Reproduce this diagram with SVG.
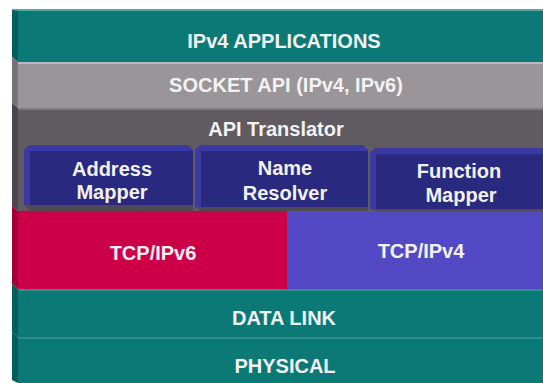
<svg xmlns="http://www.w3.org/2000/svg" width="543" height="383" viewBox="0 0 543 383">
  <style>
    .lbl { font-family: "Liberation Sans", Arial, sans-serif; font-weight: bold; font-size: 20px; fill: #f2f2f2; text-anchor: middle; }
    .teal { fill: #0b7a77; }
    .teal-side { fill: #005f5d; }
    .teal-edge { fill: #4fa9a6; }
    .box-bevel { fill: #3a3aa2; }
    .box-face { fill: #29297f; }
  </style>

  <rect x="0" y="0" width="543" height="383" fill="#ffffff"/>

  <!-- application layer -->
  <g id="ipv4-applications">
    <rect class="teal" x="18" y="10" width="525" height="52"/>
    <rect class="teal-edge" x="12" y="9" width="531" height="2"/>
    <polygon class="teal-side" points="12,10 18,11 18,62 12,57"/>
    <text class="lbl" x="284" y="48">IPv4 APPLICATIONS</text>
  </g>

  <!-- socket API layer -->
  <g id="socket-api">
    <rect x="18" y="62" width="525" height="46" fill="#9a9598"/>
    <rect x="18" y="62" width="525" height="2" fill="#bdb9bc"/>
    <polygon points="12,57 18,62 18,108 12,103" fill="#77727a"/>
    <text class="lbl" x="286" y="92">SOCKET API (IPv4, IPv6)</text>
  </g>

  <!-- translator layer with its three modules -->
  <g id="api-translator">
    <rect x="18" y="108" width="525" height="103" fill="#5f5b60"/>
    <rect x="18" y="108" width="525" height="2" fill="#7c787d"/>
    <polygon points="12,103 18,108 18,211 12,206" fill="#4a464b"/>
    <text class="lbl" x="276" y="136">API Translator</text>
  </g>

  <g id="address-mapper">
    <polygon points="24,205 193,205 193,211 30,211" fill="#4f4b50"/>
    <polygon class="box-bevel" points="24,150 29,145 188,145 193,150 193,205 24,205"/>
    <rect class="box-face" x="30" y="151" width="163" height="54"/>
    <text class="lbl" x="112" y="176">Address</text>
    <text class="lbl" x="112" y="199">Mapper</text>
  </g>

  <g id="name-resolver">
    <polygon points="195,207 368,207 368,211 201,211" fill="#4f4b50"/>
    <polygon class="box-bevel" points="195,150 200,145 363,145 368,150 368,207 195,207"/>
    <rect class="box-face" x="201" y="151" width="167" height="56"/>
    <text class="lbl" x="285" y="175">Name</text>
    <text class="lbl" x="285" y="200">Resolver</text>
  </g>

  <g id="function-mapper">
    <polygon points="370,209 543,209 543,211 376,211" fill="#4f4b50"/>
    <polygon class="box-bevel" points="370,153 375,148 543,148 543,209 370,209"/>
    <rect class="box-face" x="376" y="154" width="167" height="55"/>
    <text class="lbl" x="459" y="178">Function</text>
    <text class="lbl" x="461" y="202">Mapper</text>
  </g>

  <!-- transport stacks -->
  <g id="tcp-ipv6">
    <rect x="18" y="211" width="269" height="78" fill="#cc0047"/>
    <polygon points="12,206 18,211 18,289 12,284" fill="#a3003a"/>
    <text class="lbl" x="153" y="260" style="fill:#f6eef2">TCP/IPv6</text>
  </g>

  <g id="tcp-ipv4">
    <rect x="287" y="211" width="256" height="78" fill="#5449c5"/>
    <text class="lbl" x="421" y="258">TCP/IPv4</text>
  </g>

  <!-- lower layers -->
  <g id="data-link">
    <rect class="teal" x="18" y="289" width="525" height="48"/>
    <rect x="18" y="289" width="525" height="2" fill="#2c8f8c"/>
    <polygon class="teal-side" points="12,284 18,289 18,337 12,332"/>
    <text class="lbl" x="284" y="325">DATA LINK</text>
  </g>

  <g id="physical">
    <rect class="teal" x="18" y="337" width="525" height="46"/>
    <rect x="18" y="337" width="525" height="2" fill="#2c8f8c"/>
    <polygon class="teal-side" points="12,332 18,337 18,383 12,380"/>
    <text class="lbl" x="285" y="373">PHYSICAL</text>
  </g>
</svg>
